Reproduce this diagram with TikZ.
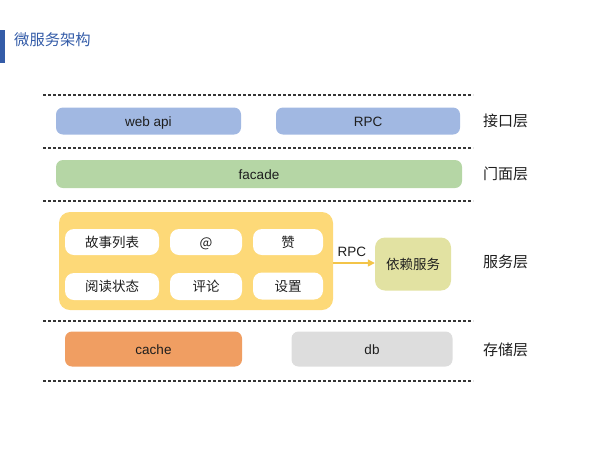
\documentclass[tikz,border=0pt]{standalone}
\usepackage{fontspec}
\setmainfont{Liberation Sans}
\newfontfamily\cjk{Noto Sans CJK SC}
\usetikzlibrary{arrows.meta}
\definecolor{titleblue}{RGB}{52,92,168}
\definecolor{apiblue}{RGB}{161,184,226}
\definecolor{facgreen}{RGB}{181,214,165}
\definecolor{svcyellow}{RGB}{253,217,120}
\definecolor{arrowgold}{RGB}{243,196,72}
\definecolor{depkhaki}{RGB}{226,226,162}
\definecolor{cacheorange}{RGB}{240,158,98}
\definecolor{dbgray}{RGB}{221,221,221}
\definecolor{txt}{RGB}{30,30,30}
\tikzset{
  layerline/.style={draw=txt!90, line width=1.3pt, dash pattern=on 2.6pt off 2.4pt},
  bar/.style={rounded corners=7pt, inner sep=0pt, font=\fontsize{13.5}{15}\selectfont, text=txt, text height=10pt, text depth=0pt},
  inner/.style={rounded corners=9pt, fill=white, inner sep=0pt, font=\cjk\fontsize{13.5}{15}\selectfont, text=txt, text height=11pt, text depth=1pt},
  layerlabel/.style={font=\cjk\fontsize{15}{16}\selectfont, text=txt, anchor=west, inner sep=0pt},
}
\begin{document}
\begin{tikzpicture}[x=1pt,y=-1pt]
\useasboundingbox (0,0) rectangle (604,453);
% title
\fill[titleblue] (0,30) rectangle (5,63);
\node[anchor=west, inner sep=0pt, text=titleblue, font=\cjk\fontsize{15.3}{17}\selectfont] (title) at (14,39.5) {微服务架构};
% dashed layer lines
\foreach \yy/\nm in {95/l1,148/l2,201/l3,321/l4,381/l5}{
  \coordinate (\nm a) at (43,\yy);
  \coordinate (\nm b) at (473,\yy);
  \draw[layerline] (\nm a) -- (\nm b);
}
% interface layer
\node[bar, fill=apiblue, minimum width=185pt, minimum height=27pt] (webapi) at (148.5,121) {web api};
\node[bar, fill=apiblue, minimum width=184pt, minimum height=27pt] (rpc) at (368,121) {RPC};
\node[layerlabel] (lab1) at (483,121) {接口层};
% facade layer
\node[bar, fill=facgreen, minimum width=406pt, minimum height=28pt] (facade) at (259,174) {facade};
\node[layerlabel] (lab2) at (483,174) {门面层};
% service layer
\node[fill=svcyellow, rounded corners=11pt, minimum width=274pt, minimum height=98pt, inner sep=0pt] (svc) at (196,261) {};
\node[inner, minimum width=94pt, minimum height=26pt] (s1) at (112,242) {故事列表};
\node[inner, minimum width=72pt, minimum height=26pt] (s2) at (206,242) {@};
\node[inner, minimum width=70pt, minimum height=26pt] (s3) at (288,242) {赞};
\node[inner, minimum width=94pt, minimum height=27pt] (s4) at (112,286.5) {阅读状态};
\node[inner, minimum width=72pt, minimum height=27pt] (s5) at (206,286.5) {评论};
\node[inner, minimum width=70pt, minimum height=27pt] (s6) at (288,286) {设置};
\node[fill=depkhaki, rounded corners=10pt, minimum width=76pt, minimum height=53pt, inner sep=0pt, font=\cjk\fontsize{13.5}{15}\selectfont, text=txt] (dep) at (413,264) {依赖服务};
\draw[arrowgold, line width=1.3pt, -{Triangle[length=7pt,width=7pt]}] (svc.east |- 0,263) -- (dep.west |- 0,263) node[pos=0.45, above=6pt, text=txt, font=\fontsize{13.5}{15}\selectfont, inner sep=0pt] (rpclab) {RPC};
\node[layerlabel] (lab3) at (483,262) {服务层};
% storage layer
\node[bar, fill=cacheorange, minimum width=177pt, minimum height=35pt] (cache) at (153.5,349) {cache};
\node[bar, fill=dbgray, minimum width=161pt, minimum height=35pt] (db) at (372,349) {db};
\node[layerlabel] (lab4) at (483,350) {存储层};
\end{tikzpicture}
\end{document}
